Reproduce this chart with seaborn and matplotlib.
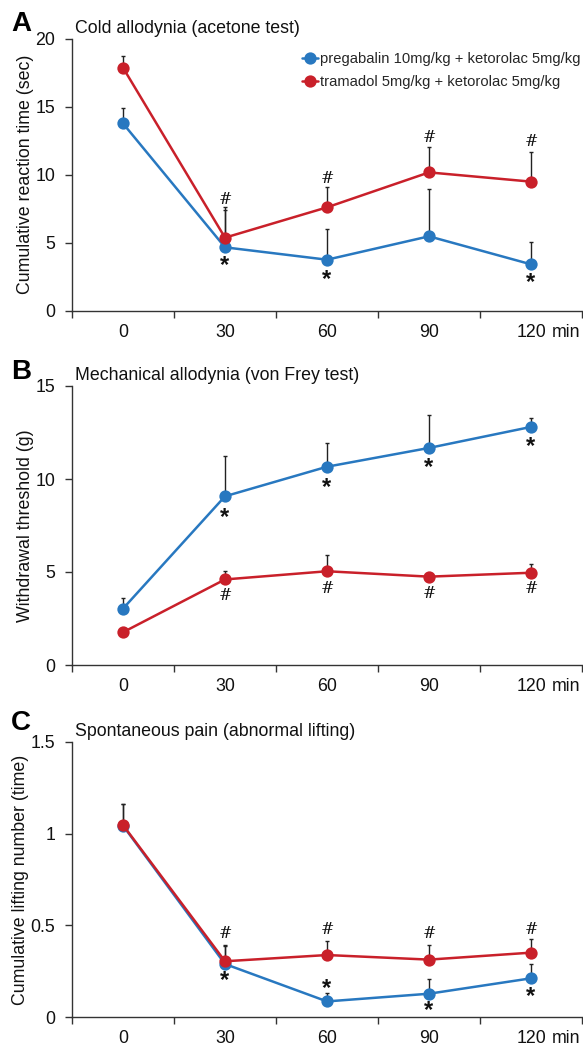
import numpy as np
import pandas as pd
import matplotlib
matplotlib.use("Agg")
import matplotlib.pyplot as plt
import seaborn as sns

# ---------------- data ----------------
times = ["0", "30", "60", "90", "120"]
groups = ["pregabalin 10mg/kg + ketorolac 5mg/kg",
          "tramadol 5mg/kg + ketorolac 5mg/kg"]

# Panel A: cold allodynia (sec)
a_preg = [13.77, 4.66, 3.75, 5.47, 3.41]
a_preg_err = [1.11, 2.74, 2.28, 3.45, 1.61]
a_tram = [17.87, 5.37, 7.60, 10.17, 9.49]
a_tram_err = [0.83, 2.23, 1.52, 1.86, 2.21]

# Panel B: mechanical allodynia (g)
b_preg = [3.03, 9.07, 10.66, 11.67, 12.80]
b_preg_err = [0.55, 2.15, 1.26, 1.77, 0.46]
b_tram = [1.76, 4.60, 5.04, 4.75, 4.96]
b_tram_err = [0.0, 0.45, 0.86, 0.0, 0.45]

# Panel C: spontaneous pain (lifting number)
c_preg = [1.044, 0.289, 0.085, 0.127, 0.211]
c_preg_err = [0.12, 0.10, 0.045, 0.08, 0.076]
c_tram = [1.047, 0.304, 0.338, 0.313, 0.351]
c_tram_err = [0.113, 0.091, 0.078, 0.082, 0.074]

# significance marks: (category index, y position)
a_hash = [(1, 8.2), (2, 9.7), (3, 12.7), (4, 12.45)]
a_star = [(1, 3.3), (2, 2.3), (4, 2.05)]
b_star = [(1, 7.95), (2, 9.55), (3, 10.6), (4, 11.75)]
b_hash = [(1, 3.73), (2, 4.12), (3, 3.85), (4, 4.12)]
c_hash = [(1, 0.458), (2, 0.480), (3, 0.453), (4, 0.476)]
c_star = [(1, 0.20), (2, 0.155), (3, 0.033), (4, 0.111)]

panels = [
    dict(letter="A", title="Cold allodynia (acetone test)",
         ylabel="Cumulative reaction time (sec)",
         preg=a_preg, preg_err=a_preg_err, tram=a_tram, tram_err=a_tram_err,
         ylim=(0, 20), yticks=[0, 5, 10, 15, 20], yticklabels=["0", "5", "10", "15", "20"],
         marks=[("#", a_hash), ("*", a_star)], legend=True),
    dict(letter="B", title="Mechanical allodynia (von Frey test)",
         ylabel="Withdrawal threshold (g)",
         preg=b_preg, preg_err=b_preg_err, tram=b_tram, tram_err=b_tram_err,
         ylim=(0, 15), yticks=[0, 5, 10, 15], yticklabels=["0", "5", "10", "15"],
         marks=[("*", b_star), ("#", b_hash)], legend=False),
    dict(letter="C", title="Spontaneous pain (abnormal lifting)",
         ylabel="Cumulative lifting number (time)",
         preg=c_preg, preg_err=c_preg_err, tram=c_tram, tram_err=c_tram_err,
         ylim=(0, 1.5), yticks=[0, 0.5, 1.0, 1.5], yticklabels=["0", "0.5", "1", "1.5"],
         marks=[("#", c_hash), ("*", c_star)], legend=False),
]

BLUE = "#2878c0"
RED = "#c9202a"
palette = {groups[0]: BLUE, groups[1]: RED}

sns.set_theme(style="white")
plt.rcParams["font.family"] = ["Liberation Sans", "DejaVu Sans"]
plt.rcParams["axes.edgecolor"] = "#333333"

FS = 12.8
fig = plt.figure(figsize=(5.83, 10.48), dpi=100)
W, H = 583, 1048
boxes = [(38.7, 310.7), (386, 665), (742, 1017)]
letter_y = [24, 372, 723]
left_px, right_px = 72, 582

for p, (top, bot), ly in zip(panels, boxes, letter_y):
    ax = fig.add_axes([left_px / W, 1 - bot / H, (right_px - left_px) / W, (bot - top) / H])
    df = pd.DataFrame({
        "time": times * 2,
        "value": p["preg"] + p["tram"],
        "group": [groups[0]] * len(times) + [groups[1]] * len(times),
    })
    pos = np.arange(len(times))
    # error bars (upper only) drawn beneath markers
    for vals, errs in [(p["preg"], p["preg_err"]), (p["tram"], p["tram_err"])]:
        ax.errorbar(pos, vals, yerr=[np.zeros(len(errs)), errs], fmt="none",
                    ecolor="#222222", elinewidth=1.0, capsize=1.6, capthick=1.0, zorder=1)
    sns.pointplot(data=df, x="time", y="value", hue="group", order=times,
                  hue_order=groups, palette=palette, errorbar=None, dodge=False,
                  markers="o", markersize=7.5, linewidth=1.8, ax=ax, legend=p["legend"])
    for ln in ax.lines:
        ln.set_zorder(3)

    ax.set_xlim(-0.5, len(times) - 0.5)
    ax.set_ylim(*p["ylim"])
    ax.set_xticks(np.arange(-0.5, len(times)), [""] * (len(times) + 1))
    ax.set_xticks(pos, minor=True)
    ax.set_xticklabels(list(times), minor=True)
    ax.tick_params(axis="x", which="major", direction="out", length=5, width=1,
                   color="#333333", bottom=True)
    ax.tick_params(axis="x", which="minor", length=0, pad=9.5, labelsize=FS,
                   labelcolor="#111111")
    ax.annotate("min", xy=(4.2, 0), xycoords=("data", "axes fraction"),
                xytext=(0, -9.5), textcoords="offset points", ha="left", va="top",
                fontsize=FS, color="#111111", annotation_clip=False)
    ax.set_yticks(p["yticks"], p["yticklabels"])
    ax.tick_params(axis="y", direction="out", length=5, width=1, color="#333333",
                   left=True, labelsize=FS, labelcolor="#111111", pad=7)
    ax.set_xlabel("")
    ax.set_ylabel(p["ylabel"], fontsize=FS, color="#111111", labelpad=0.8)
    sns.despine(ax=ax)
    for s in ["left", "bottom"]:
        ax.spines[s].set_linewidth(1.0)
        ax.spines[s].set_color("#333333")

    for sym, lst in p["marks"]:
        for xi, yv in lst:
            if sym == "#":
                ax.text(xi, yv, "#", ha="center", va="center", fontsize=11.5,
                        family=["DejaVu Serif"], color="#111111")
            else:
                ax.text(xi, yv, "*", ha="center", va="center", fontsize=17,
                        fontweight="bold", color="#111111")

    fig.text(75 / W, 1 - (top - 10.5) / H, p["title"], ha="left", va="center",
             fontsize=FS, color="#111111")
    fig.text(11 / W, 1 - ly / H, p["letter"], ha="left", va="center",
             fontsize=20, fontweight="bold", color="black")

    if p["legend"]:
        leg = ax.legend(loc="upper left", bbox_to_anchor=(302 / W, 1 - 52.5 / H),
                        bbox_transform=fig.transFigure, frameon=False,
                        fontsize=10.6, handlelength=1.1, handletextpad=0.1,
                        labelspacing=0.6, borderaxespad=0, borderpad=0)
        leg.set_title(None)

fig.savefig("out.png", dpi=100)
